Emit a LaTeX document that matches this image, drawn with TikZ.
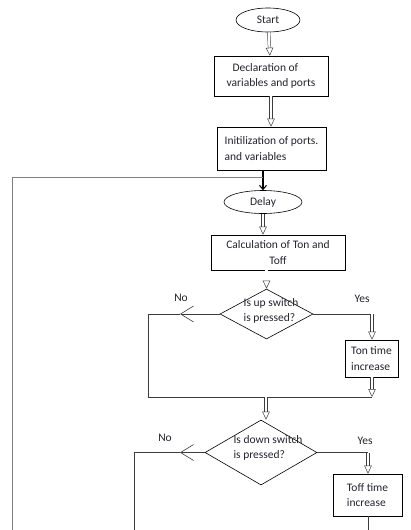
\documentclass[tikz,border=0pt]{standalone}
\usepackage{fontspec}
\setmainfont{Carlito}
\usetikzlibrary{shapes.geometric,arrows.meta}
\definecolor{txt}{HTML}{23232B}
\definecolor{wire}{HTML}{3C3C3C}
\tikzset{
	box/.style={draw, rectangle, line width=0.6pt, inner sep=3pt, text=txt},
	term/.style={draw, ellipse, line width=0.6pt, inner sep=0pt, text=txt},
	decision/.style={draw, diamond, line width=0.6pt, inner sep=0pt},
	lbl/.style={text=txt, inner sep=0pt},
	hollow/.style={draw=wire, double, double distance=2.2pt, line width=0.5pt, -{Triangle[open, length=8pt, width=7.5pt]}},
	wire/.style={draw=wire, line width=0.6pt},
	noarrow/.style={wire, -{Straight Barb[length=13pt, width=16pt]}}
}
\begin{document}
\begin{tikzpicture}[x=1pt, y=-1pt, font=\fontsize{11.5}{15.5}\selectfont]
	\useasboundingbox (0,0) rectangle (410,530);
	\node[term, minimum width=64pt, minimum height=24pt] (start) at (268,20) {Start};
	\node[box, minimum width=114pt, minimum height=40pt, align=left] (decl) at (271,76) {\hspace{6pt}Declaration of\\variables and ports};
	\node[box, minimum width=109pt, minimum height=43pt, align=left] (init) at (271.5,148.5) {Initilization of ports.\\ and variables};
	\node[term, minimum width=78pt, minimum height=23pt] (delay) at (263,202) {Delay};
	\node[box, minimum width=134pt, minimum height=35pt, align=center] (calc) at (278,252.5) {Calculation of Ton and\\Toff};
	\node[decision, minimum width=93pt, minimum height=50pt] (up) at (266.5,314) {};
	\node[lbl, align=left] (uptext) at (271,311) {Is up switch\\is pressed?};
	\node[box, minimum width=53pt, minimum height=37pt, align=left] (ton) at (371.5,358.5) {Ton time\\increase};
	\node[decision, minimum width=112pt, minimum height=65pt] (down) at (261,452.5) {};
	\node[lbl, align=left] (downtext) at (268,448) {Is down switch\\is pressed?};
	\node[box, minimum width=69pt, minimum height=42pt, align=left] (toff) at (367.5,495) {Toff time\\increase};
	% corners
	\coordinate (looptop) at (12,177);
	\coordinate (loopbot) at (12,530);
	\coordinate (noup) at (180,314);
	\coordinate (noupcorner) at (148,314);
	\coordinate (upjoin) at (148,397);
	\coordinate (yesup) at (372,314);
	\coordinate (tonjoin) at (372,397);
	\coordinate (merge) at (266,397);
	\coordinate (nodown) at (180,452.5);
	\coordinate (nodowncorner) at (134,452.5);
	\coordinate (nodownend) at (134,530);
	\coordinate (yesdown) at (368,452.5);
	\coordinate (toffend) at (368,530);
	% flow
	\draw[hollow] (start) -- (decl);
	\draw[hollow] (decl) -- (init.north -| decl);
	\draw[wire, line width=1.1pt, draw=black, -{Straight Barb[length=4pt, width=7pt]}] (init.south -| 263,0) -- (delay.north);
	\draw[wire, draw=gray, line width=0.9pt] (loopbot) -- (looptop) -- (looptop -| 263,0);
	\draw[hollow] (delay) -- (delay.south |- calc.north);
	\draw[hollow] (calc.south -| up) -- (up.north);
	\draw[noarrow] (up.west) -- (noup);
	\draw[wire] (noup) -- (noupcorner) -- (upjoin) -- (tonjoin);
	\draw[wire] (up.east) -- (yesup);
	\draw[hollow] (yesup) -- (ton.north -| yesup);
	\draw[hollow] (ton.south -| tonjoin) -- (tonjoin);
	\draw[hollow] (merge) -- (down.north -| merge);
	\draw[noarrow] (down.west) -- (nodown);
	\draw[wire] (nodown) -- (nodowncorner) -- (nodownend);
	\draw[wire] (down.east) -- (yesdown);
	\draw[hollow] (yesdown) -- (toff.north -| yesdown);
	\draw[wire] (toff.south -| toffend) -- (toffend);
	% labels
	\node[lbl] (upno) at (181,298) {No};
	\node[lbl] (upyes) at (362,299) {Yes};
	\node[lbl] (downno) at (165,438) {No};
	\node[lbl] (downyes) at (365,441) {Yes};
\end{tikzpicture}
\end{document}
